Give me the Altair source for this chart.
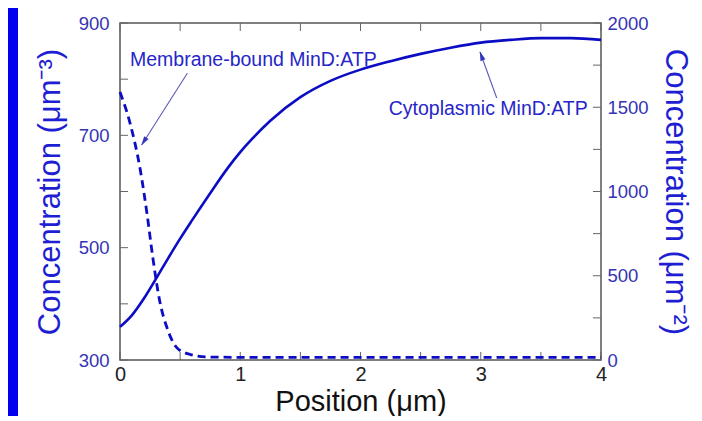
import altair as alt
import pandas as pd

# ---- data ----
pos_cyto = [0, 0.1, 0.2, 0.3, 0.4, 0.5, 0.6, 0.75, 0.9, 1.0, 1.1, 1.25, 1.5, 1.75, 2.0,
            2.25, 2.5, 2.75, 3.0, 3.25, 3.5, 3.75, 4.0]
cyto = [359, 380, 410, 445, 481, 516, 549, 597, 643, 670, 694, 726, 768, 797, 817,
        832, 845, 856, 865, 870, 873, 873, 870]

pos_mem = [0, 0.083, 0.166, 0.2245, 0.274, 0.333, 0.391, 0.474, 0.582, 0.715, 1.0, 2.0, 3.0, 4.0]
mem = [1590, 1407, 1139, 869, 602, 341, 191, 72, 33, 18, 16, 16, 16, 16]

x_labels = [0, 1, 2, 3, 4]
x_ticks = [0, 0.5, 1, 1.5, 2, 2.5, 3, 3.5, 4]
left_labels = [300, 500, 700, 900]
left_ticks = [300, 400, 500, 600, 700, 800, 900]
right_labels = [0, 500, 1000, 1500, 2000]
right_ticks = [0, 250, 500, 750, 1000, 1250, 1500, 1750, 2000]

ann_text = ["Membrane-bound MinD:ATP", "Cytoplasmic MinD:ATP"]
ann_x = [0.083, 3.89]
ann_y = [823, 736]

# ---- styling ----
W, H = 481, 337
FONT = "Liberation Sans"
LINE = "#0c0cc4"
LABEL_BLUE = "#3434b4"
TITLE_BLUE = "#1e1ed2"
TICK = "#666666"

xscale = alt.Scale(domain=[0, 4], nice=False, zero=False)
lscale = alt.Scale(domain=[300, 900], nice=False, zero=False)
rscale = alt.Scale(domain=[0, 2000], nice=False, zero=False)

x_axis = alt.Axis(values=x_labels, title="Position (μm)", ticks=False, tickSize=0,
                  domain=False, grid=False, labelFontSize=20, labelColor="#222222",
                  labelPadding=4, labelFlush=False, format="d", labelFont=FONT,
                  titleFont=FONT, titleFontSize=29, titleColor="#111111",
                  titleFontWeight="normal", titlePadding=3, zindex=1)
left_axis = alt.Axis(values=left_labels, title="Concentration (μm⁻³)", ticks=False,
                     tickSize=0, domain=False, grid=False, labelFontSize=18.5,
                     labelColor=LABEL_BLUE, labelPadding=11, format="d", labelFont=FONT,
                     titleFont=FONT, titleFontSize=31, titleColor=TITLE_BLUE,
                     titleFontWeight="normal", titlePadding=12, zindex=1)
right_axis = alt.Axis(values=right_labels, title="Concentration (μm⁻²)", orient="right",
                      ticks=False, tickSize=0, domain=False, grid=False,
                      labelFontSize=18.5, labelColor=LABEL_BLUE, labelPadding=6,
                      format="d", labelFont=FONT, titleFont=FONT, titleFontSize=31,
                      titleColor=TITLE_BLUE, titleFontWeight="normal",
                      titlePadding=10, zindex=1)


def X(field):
    return alt.X(field, scale=xscale, axis=x_axis)


def YL(field):
    return alt.Y(field, scale=lscale, axis=left_axis)


def YR(field):
    return alt.Y(field, scale=rscale, axis=right_axis)


df_c = pd.DataFrame({"x": pos_cyto, "y": cyto})
df_m = pd.DataFrame({"x": pos_mem, "y": mem})

solid = alt.Chart(df_c).mark_line(color=LINE, strokeWidth=2.6, interpolate="monotone").encode(
    x=X("x:Q"), y=YL("y:Q")
)

lt = alt.Chart(pd.DataFrame({"y": left_ticks})).mark_rule(color=TICK, strokeWidth=1).encode(
    y=YL("y:Q"), x=alt.value(0), x2=alt.value(8)
)
xt_b = alt.Chart(pd.DataFrame({"x": x_ticks})).mark_rule(color=TICK, strokeWidth=1).encode(
    x=X("x:Q"), y=alt.value(H), y2=alt.value(H - 8)
)
xt_t = alt.Chart(pd.DataFrame({"x": x_ticks})).mark_rule(color=TICK, strokeWidth=1).encode(
    x=X("x:Q"), y=alt.value(0), y2=alt.value(8)
)

df_ann = pd.DataFrame({"label": ann_text, "x": ann_x, "y": ann_y})
t_mem = alt.Chart(df_ann.iloc[[0]]).mark_text(
    align="left", baseline="alphabetic", font=FONT, fontSize=19.5, color="#2626c8"
).encode(x=X("x:Q"), y=YL("y:Q"), text="label:N")
t_cyt = alt.Chart(df_ann.iloc[[1]]).mark_text(
    align="right", baseline="alphabetic", font=FONT, fontSize=19.5, color="#2626c8"
).encode(x=X("x:Q"), y=YL("y:Q"), text="label:N")

# arrows (start -> tip) in data coordinates
arr = pd.DataFrame({"x": [0.56, 3.133], "y": [810.4, 766.5],
                    "x2": [0.18, 2.994], "y2": [682.8, 848.4]})
arrows = alt.Chart(arr).mark_rule(color="#5a5ab8", strokeWidth=1.1).encode(
    x=X("x:Q"), y=YL("y:Q"), x2="x2:Q", y2="y2:Q"
)
HEAD = "M0,-1L0.55,1L-0.55,1Z"
h1 = alt.Chart(pd.DataFrame({"x": [0.198], "y": [688.8]})).mark_point(
    shape=HEAD, filled=True, size=90, angle=212.5, color="#3434c0", opacity=1
).encode(x=X("x:Q"), y=YL("y:Q"))
h2 = alt.Chart(pd.DataFrame({"x": [3.005], "y": [841.6]})).mark_point(
    shape=HEAD, filled=True, size=90, angle=340.1, color="#3434c0", opacity=1
).encode(x=X("x:Q"), y=YL("y:Q"))

dashed = alt.Chart(df_m).mark_line(color=LINE, strokeWidth=2.8, strokeDash=[8, 5],
                                   interpolate="monotone").encode(
    x=X("x:Q"), y=YR("y:Q")
)
rt = alt.Chart(pd.DataFrame({"y": right_ticks})).mark_rule(color=TICK, strokeWidth=1).encode(
    y=YR("y:Q"), x=alt.value(W), x2=alt.value(W - 8)
)

strip = alt.Chart(pd.DataFrame({"a": [0]})).mark_rect(color="#0000f0").encode(
    x=alt.value(-112), x2=alt.value(-102), y=alt.value(-15), y2=alt.value(H + 60)
)

left_group = alt.layer(solid, lt, xt_b, xt_t, arrows, h1, h2, t_mem, t_cyt)
right_group = alt.layer(dashed, rt)

chart = alt.layer(strip, left_group, right_group).resolve_scale(y="independent").properties(
    width=W, height=H,
    autosize=alt.AutoSizeParams(type="none"),
    padding={"left": 112, "top": 15, "right": 93, "bottom": 56},
).configure(background="white").configure_view(stroke="#555555", strokeWidth=1.5)

chart.save("out.html", embed_options={"renderer": "svg", "actions": False})
